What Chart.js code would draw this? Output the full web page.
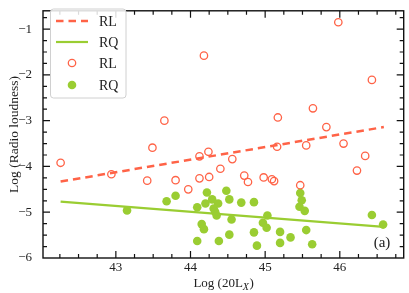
<!DOCTYPE html>
<html>
<head>
<meta charset="utf-8">
<script src="https://cdn.jsdelivr.net/npm/chart.js@4"></script>
<style>
  html, body { margin: 0; padding: 0; background: #fff; }
  #wrap { width: 409px; height: 293px; }
</style>
</head>
<body>
<div id="wrap"><canvas id="chart" width="409" height="293"></canvas></div>
<script>
// values
const rlX = [42.26, 42.94, 43.42, 43.49, 43.65, 43.80, 43.97, 44.12, 44.12, 44.18,
             44.24, 44.25, 44.40, 44.56, 44.72, 44.77, 44.98, 45.09, 45.12, 45.16,
             45.17, 45.47, 45.55, 45.64, 45.82, 45.98, 46.05, 46.23, 46.34, 46.43];
const rlY = [-3.92, -4.17, -4.31, -3.59, -3.00, -4.30, -4.50, -3.78, -4.26, -1.58,
             -3.68, -4.23, -4.05, -3.84, -4.20, -4.34, -4.24, -4.28, -4.32, -3.57,
             -2.93, -4.41, -3.54, -2.73, -3.14, -0.85, -3.50, -4.09, -3.77, -2.11];

const rqX = [43.15, 43.68, 43.80, 44.09, 44.22, 44.20, 44.29, 44.37, 44.31, 44.35,
             44.48, 44.52, 44.68, 44.85, 44.55, 44.15, 44.18, 44.09, 44.38, 44.52,
             44.85, 44.89, 45.03, 44.97, 45.02, 45.20, 45.20, 45.34, 45.47, 45.49,
             45.46, 45.53, 45.55, 45.63, 46.43, 46.58, 44.33];
const rqY = [-4.96, -4.76, -4.64, -4.89, -4.57, -4.81, -4.72, -4.81, -4.92, -5.07,
             -4.53, -4.72, -4.79, -4.78, -5.16, -5.26, -5.37, -5.63, -5.63, -5.49,
             -5.44, -5.73, -5.07, -5.23, -5.34, -5.43, -5.67, -5.55, -4.58, -4.74,
             -4.88, -4.97, -5.39, -5.70, -5.06, -5.27, -4.99];

// fitted lines, end points
const fitX = [42.26, 46.59];
const rlFitY = [-4.33, -3.14];
const rqFitY = [-4.77, -5.32];

const xTicks = [43, 44, 45, 46];
const yTicks = [-6, -5, -4, -3, -2, -1];

const red = '#ff6347';
const green = '#9acd32';
const serif = '"Liberation Serif", "DejaVu Serif", serif';

const pts = (xs, ys) => xs.map((x, i) => ({ x: x, y: ys[i] }));

// frame, inward ticks, titles and legend
const decor = {
  id: 'decor',
  afterDraw(chart) {
    const ctx = chart.ctx;
    const a = chart.chartArea;
    const xs = chart.scales.x, ys = chart.scales.y;
    ctx.save();
    ctx.strokeStyle = '#111';
    ctx.lineWidth = 1.4;
    ctx.strokeRect(a.left, a.top, a.right - a.left, a.bottom - a.top);

    ctx.lineWidth = 1.2;
    ctx.beginPath();
    for (let v = 42.25; v < xs.max; v += 0.25) {
      const p = xs.getPixelForValue(v);
      const len = Math.abs(v - Math.round(v)) < 1e-6 ? 7 : 4;
      ctx.moveTo(p, a.bottom); ctx.lineTo(p, a.bottom - len);
      ctx.moveTo(p, a.top); ctx.lineTo(p, a.top + len);
    }
    for (let v = -5.75; v < ys.max; v += 0.25) {
      const p = ys.getPixelForValue(v);
      const len = Math.abs(v - Math.round(v)) < 1e-6 ? 7 : 4;
      ctx.moveTo(a.left, p); ctx.lineTo(a.left + len, p);
      ctx.moveTo(a.right, p); ctx.lineTo(a.right - len, p);
    }
    ctx.stroke();

    ctx.fillStyle = '#222';
    ctx.textBaseline = 'middle';

    // x tick labels
    ctx.font = '13px ' + serif;
    ctx.textAlign = 'center';
    xTicks.forEach(v => ctx.fillText(String(v), xs.getPixelForValue(v), a.bottom + 10));

    // axis titles
    const cx = (a.left + a.right) / 2;
    const t1 = 'Log (20L', t2 = 'X', t3 = ')';
    const w1 = ctx.measureText(t1).width;
    ctx.font = 'italic 10px ' + serif;
    const w2 = ctx.measureText(t2).width;
    ctx.font = '13px ' + serif;
    const w3 = ctx.measureText(t3).width;
    let x0 = cx - (w1 + w2 + w3) / 2;
    ctx.textAlign = 'left';
    ctx.fillText(t1, x0, 284);
    ctx.font = 'italic 10px ' + serif;
    ctx.fillText(t2, x0 + w1, 287);
    ctx.font = '13px ' + serif;
    ctx.fillText(t3, x0 + w1 + w2 + 0.5, 284);

    ctx.save();
    ctx.translate(14, (a.top + a.bottom) / 2);
    ctx.rotate(-Math.PI / 2);
    ctx.textAlign = 'center';
    ctx.font = '13.5px ' + serif;
    ctx.fillText('Log (Radio loudness)', 0, 0);
    ctx.restore();

    ctx.font = '15px ' + serif;
    ctx.textAlign = 'center';
    ctx.fillText('(a)', 382, 243);

    // legend
    const bx = 50.5, by = 9, bw = 75.5, bh = 89;
    ctx.beginPath();
    ctx.roundRect(bx, by, bw, bh, 3);
    ctx.fillStyle = 'rgba(255,255,255,0.85)';
    ctx.fill();
    ctx.strokeStyle = '#d0d0d0';
    ctx.lineWidth = 1;
    ctx.stroke();

    const rows = [21, 42, 63, 85];
    ctx.lineWidth = 2.5;
    ctx.strokeStyle = red;
    ctx.setLineDash([7.5, 5]);
    ctx.beginPath(); ctx.moveTo(56, rows[0]); ctx.lineTo(88, rows[0]); ctx.stroke();
    ctx.setLineDash([]);
    ctx.lineWidth = 2.2;
    ctx.strokeStyle = green;
    ctx.beginPath(); ctx.moveTo(56, rows[1]); ctx.lineTo(88, rows[1]); ctx.stroke();
    ctx.lineWidth = 1.3;
    ctx.strokeStyle = red;
    ctx.beginPath(); ctx.arc(72, rows[2], 3.7, 0, 2 * Math.PI); ctx.stroke();
    ctx.fillStyle = green;
    ctx.beginPath(); ctx.arc(72, rows[3], 4.3, 0, 2 * Math.PI); ctx.fill();

    ctx.fillStyle = '#222';
    ctx.font = '14px ' + serif;
    ctx.textAlign = 'left';
    ['RL', 'RQ', 'RL', 'RQ'].forEach((t, i) => ctx.fillText(t, 99, rows[i] + 1));
    ctx.restore();
  }
};

new Chart(document.getElementById('chart'), {
  type: 'scatter',
  data: {
    datasets: [
      {
        label: 'RL fit',
        data: pts(fitX, rlFitY),
        showLine: true,
        borderColor: red,
        borderWidth: 2.5,
        borderDash: [7.5, 5],
        pointRadius: 0,
        order: 1
      },
      {
        label: 'RQ fit',
        data: pts(fitX, rqFitY),
        showLine: true,
        borderColor: green,
        borderWidth: 2.2,
        pointRadius: 0,
        order: 2
      },
      {
        label: 'RL',
        data: pts(rlX, rlY),
        pointRadius: 3.7,
        pointBorderWidth: 1.3,
        pointBorderColor: red,
        pointBackgroundColor: 'rgba(255,255,255,0)',
        order: 3
      },
      {
        label: 'RQ',
        data: pts(rqX, rqY),
        pointRadius: 4.3,
        pointBorderWidth: 0,
        pointBackgroundColor: green,
        order: 4
      }
    ]
  },
  options: {
    responsive: false,
    animation: false,
    layout: { padding: { left: 0, top: 2, right: 2, bottom: 0 } },
    plugins: { legend: { display: false }, tooltip: { enabled: false } },
    scales: {
      x: {
        type: 'linear',
        min: 42.024,
        max: 46.856,
        grid: { display: false },
        border: { display: false },
        afterBuildTicks: s => { s.ticks = xTicks.map(v => ({ value: v })); },
        afterFit: s => { s.height = 35; },
        ticks: { display: false }
      },
      y: {
        type: 'linear',
        min: -6,
        max: -0.6,
        grid: { display: false },
        border: { display: false },
        afterBuildTicks: s => { s.ticks = yTicks.map(v => ({ value: v })); },
        afterFit: s => { s.width = 43; },
        ticks: {
          padding: 3,
          color: '#222',
          font: { family: serif, size: 13 },
          callback: v => '\u2212' + Math.abs(v)
        }
      }
    }
  },
  plugins: [decor]
});
</script>
</body>
</html>
